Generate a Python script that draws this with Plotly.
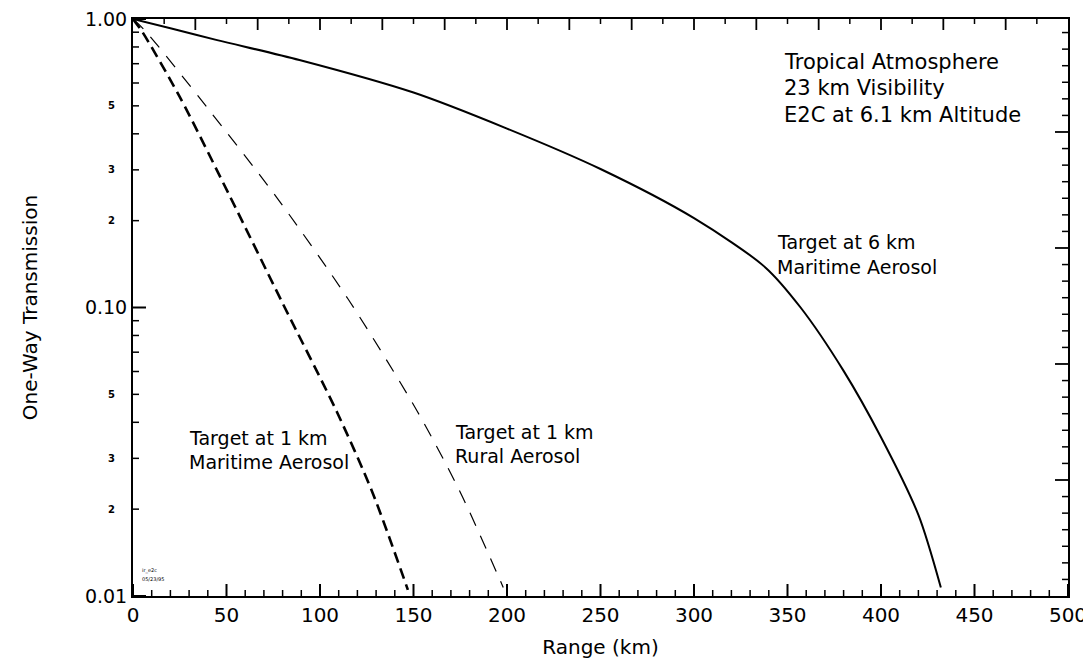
import math
import plotly.graph_objects as go

# Data
km_6_mar = [0, 20, 45, 89, 150, 200, 250, 300, 338, 357, 380, 400, 420, 432]
tr_6_mar = [1.0, 0.929, 0.845, 0.721, 0.556, 0.417, 0.302, 0.204, 0.138, 0.100, 0.0603, 0.0355, 0.0191, 0.0107]

km_1_mar = [0, 5, 25, 52, 80, 109, 128, 147]
tr_1_mar = [1.0, 0.902, 0.537, 0.2415, 0.1035, 0.0435, 0.0229, 0.0105]

km_1_rur = [0, 6.4, 40, 77, 115, 152, 175, 198]
tr_1_rur = [1.0, 0.912, 0.490, 0.240, 0.107, 0.0437, 0.0229, 0.0107]

y_major_vals = [0.01, 0.1, 1.0]
y_major_text = ["0.01", "0.10", "1.00"]
y_minor_vals = [m * d for d in (0.01, 0.1) for m in range(2, 10)]
y_small_label_vals = [0.02, 0.03, 0.05, 0.2, 0.3, 0.5]
y_small_label_text = ["2", "3", "5", "2", "3", "5"]

x_tick_vals = [0, 50, 100, 150, 200, 250, 300, 350, 400, 450, 500]
x_minor_vals = [v for v in range(10, 500, 10) if v % 50 != 0]

# secondary frame scales (top: 0..15, right: 0..~5)
top_scale_max = 15
top_major = list(range(1, 15))
top_minor = [i + 0.5 for i in range(15)]
right_scale_max = 4.974
right_major = [1, 2, 3, 4]
right_minor = [i / 7 for i in range(1, 35) if i % 7 != 0]

notes = ["Tropical Atmosphere", "23 km Visibility", "E2C at 6.1 km Altitude"]
curve_labels = [
    (775, 242, "Target at 6 km"), (775, 267, "Maritime Aerosol"),
    (187, 438, "Target at 1 km"), (187, 462, "Maritime Aerosol"),
    (453, 432, "Target at 1 km"), (453, 456, "Rural Aerosol"),
]

FONT = "DejaVu Sans, Arial, sans-serif"
# page body has an 8px margin, so the figure is made 8px smaller and placed accordingly
OFF = 8
W, H = 1091 - OFF, 669 - 2 * OFF
L, T = 133 - OFF, 19 - OFF
PW, PH = 935, 577
R, B = W - L - PW, H - T - PH
X_MAX = 500
PX_PER_KM = PW / X_MAX
PX_PER_DECADE = PH / 2


def px_to_paper(px, py):
    return (px - OFF - L) / PW, 1 - (py - OFF - T) / PH


fig = go.Figure()
fig.add_trace(go.Scatter(x=km_6_mar, y=tr_6_mar, mode="lines",
                         line=dict(color="black", width=2, shape="spline", smoothing=0.8),
                         hoverinfo="skip", showlegend=False))
fig.add_trace(go.Scatter(x=km_1_mar, y=tr_1_mar, mode="lines",
                         line=dict(color="black", width=2.6, dash="11px,6px", shape="spline", smoothing=0.8),
                         hoverinfo="skip", showlegend=False))
fig.add_trace(go.Scatter(x=km_1_rur, y=tr_1_rur, mode="lines",
                         line=dict(color="black", width=1.2, dash="14px,11px", shape="spline", smoothing=0.8),
                         hoverinfo="skip", showlegend=False))


def vertical_ticks(xs, at_top, length_px, width):
    xx, yy = [], []
    if at_top:
        y0, y1 = 1.0, 10 ** (-length_px / PX_PER_DECADE)
    else:
        y0, y1 = 0.01, 0.01 * 10 ** (length_px / PX_PER_DECADE)
    for v in xs:
        xx += [v, v, None]
        yy += [y0, y1, None]
    fig.add_trace(go.Scatter(x=xx, y=yy, mode="lines", hoverinfo="skip", showlegend=False,
                             line=dict(color="black", width=width)))


def horizontal_ticks(ys, at_right, length_px, width):
    xx, yy = [], []
    if at_right:
        x0, x1 = X_MAX, X_MAX - length_px / PX_PER_KM
    else:
        x0, x1 = 0, length_px / PX_PER_KM
    for v in ys:
        xx += [x0, x1, None]
        yy += [v, v, None]
    fig.add_trace(go.Scatter(x=xx, y=yy, mode="lines", hoverinfo="skip", showlegend=False,
                             line=dict(color="black", width=width)))


# bottom ticks (major + minor)
vertical_ticks(x_tick_vals, False, 12, 2)
vertical_ticks(x_minor_vals, False, 6, 1.5)
# left ticks (major + minor)
horizontal_ticks(y_major_vals, False, 13, 2)
horizontal_ticks(y_minor_vals, False, 6, 1.5)
# top frame ticks (secondary scale)
vertical_ticks([v * X_MAX / top_scale_max for v in top_major], True, 11, 1.8)
vertical_ticks([v * X_MAX / top_scale_max for v in top_minor], True, 5, 1.5)
# right frame ticks (secondary scale)
horizontal_ticks([10 ** (-2 + 2 * v / right_scale_max) for v in right_major], True, 13, 1.8)
horizontal_ticks([10 ** (-2 + 2 * v / right_scale_max) for v in right_minor], True, 6, 1.5)

fig.update_layout(
    width=W, height=H,
    margin=dict(l=L, r=R, t=T, b=B, autoexpand=False),
    paper_bgcolor="white", plot_bgcolor="white",
    font=dict(family=FONT, color="black"),
    xaxis=dict(range=[0, X_MAX], tickmode="array", tickvals=x_tick_vals, ticks="",
               showline=True, linecolor="black", linewidth=2,
               mirror=True, showgrid=False, zeroline=False, tickfont=dict(size=20),
               ticklabeloverflow="allow",
               title=dict(text="Range (km)", font=dict(size=20), standoff=14)),
    yaxis=dict(type="log", range=[-2, 0], tickmode="array", tickvals=y_major_vals, ticktext=y_major_text,
               ticks="", showline=True, linecolor="black", linewidth=2, mirror=True,
               showgrid=False, zeroline=False, tickfont=dict(size=19), ticklabeloverflow="allow",
               title=dict(text="One-Way Transmission", font=dict(size=20), standoff=42)),
)

for v, t in zip(y_small_label_vals, y_small_label_text):
    fig.add_annotation(x=0, xref="paper", y=math.log10(v), yref="y", text="<b>" + t + "</b>",
                       showarrow=False, xanchor="right", xshift=-16, font=dict(size=10, family=FONT))

for i, t in enumerate(notes):
    xp, yp = px_to_paper(782, 62 + 26.5 * i)
    fig.add_annotation(x=xp, xref="paper", y=yp, yref="paper", text=t, showarrow=False,
                       xanchor="left", yanchor="middle", font=dict(size=21, family=FONT))

for (px, py, t) in curve_labels:
    xp, yp = px_to_paper(px, py)
    fig.add_annotation(x=xp, xref="paper", y=yp, yref="paper", text=t, showarrow=False,
                       xanchor="left", yanchor="middle", font=dict(size=19, family=FONT))

for (px, py, t) in [(140, 570, "ir_e2c"), (140, 579, "05/23/95")]:
    xp, yp = px_to_paper(px, py)
    fig.add_annotation(x=xp, xref="paper", y=yp, yref="paper", text=t, showarrow=False,
                       xanchor="left", yanchor="middle", font=dict(size=5, family=FONT))

fig.write_html("out.html")
